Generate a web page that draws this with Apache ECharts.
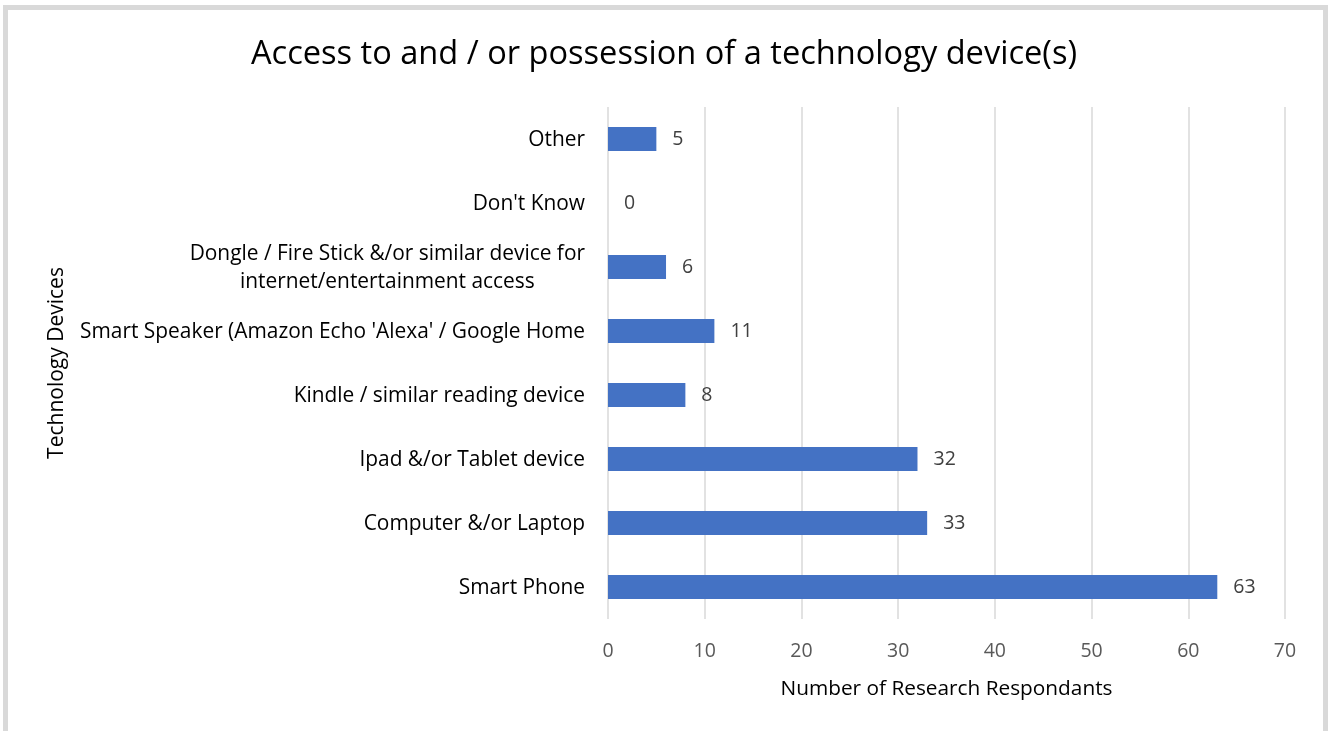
<!DOCTYPE html>
<html>
<head>
<meta charset="utf-8">
<script src="https://cdn.jsdelivr.net/npm/echarts@6/dist/echarts.min.js"></script>
<style>
  html, body { margin: 0; padding: 0; background: #fff; }
  #chart { width: 1328px; height: 731px; }
</style>
</head>
<body>
<div id="chart"></div>
<script>
// Device categories, listed bottom-to-top as they appear on the axis
const categories = [
  'Smart Phone',
  'Computer &/or Laptop',
  'Ipad &/or Tablet device',
  'Kindle / similar reading device',
  "Smart Speaker (Amazon Echo 'Alexa' / Google Home",
  'Dongle / Fire Stick &/or similar device for\ninternet/entertainment access',
  "Don't Know",
  'Other'
];
// Number of respondents per device
const respondents = [63, 33, 32, 8, 11, 6, 0, 5];
// Value axis ticks
const xTicks = [0, 10, 20, 30, 40, 50, 60, 70];

const FONT = 'Open Sans';
const chart = echarts.init(document.getElementById('chart'), null, { renderer: 'canvas' });

chart.setOption({
  backgroundColor: '#ffffff',
  animation: false,
  textStyle: { fontFamily: FONT },
  title: {
    text: 'Access to and / or possession of a technology device(s)',
    left: 'center',
    top: 33,
    textStyle: { fontFamily: FONT, fontSize: 32.6, fontWeight: 'normal', color: '#000000' }
  },
  graphic: [{
    type: 'rect',
    shape: { x: 5.5, y: 7.5, width: 1320, height: 760 },
    style: { fill: null, stroke: '#d9d9d9', lineWidth: 5 },
    silent: true
  }],
  grid: { left: 608, right: 43, top: 107, bottom: 112, containLabel: false },
  xAxis: {
    type: 'value',
    min: xTicks[0],
    max: xTicks[xTicks.length - 1],
    interval: xTicks[1] - xTicks[0],
    name: 'Number of Research Respondants',
    nameLocation: 'middle',
    nameGap: 60,
    nameTextStyle: { fontFamily: FONT, fontSize: 20.8, color: '#000000' },
    axisLine: { show: false },
    axisTick: { show: false },
    axisLabel: { fontFamily: FONT, fontSize: 19.5, color: '#595959', margin: 22 },
    splitLine: { show: true, lineStyle: { color: '#d9d9d9', width: 1.5 } }
  },
  yAxis: {
    type: 'category',
    data: categories,
    name: 'Technology Devices',
    nameLocation: 'middle',
    nameGap: 540,
    nameRotate: 90,
    nameTextStyle: { fontFamily: FONT, fontSize: 21, color: '#000000' },
    axisLine: { show: false },
    axisTick: { show: false },
    axisLabel: {
      margin: 23,
      lineHeight: 28,
      padding: [3, 0, 0, 0],
      formatter: v => v.split('\n').map(s => '{c|' + s + '}').join('\n'),
      rich: { c: { fontFamily: FONT, fontSize: 20.9, color: '#000000', align: 'center', lineHeight: 28 } }
    }
  },
  series: [{
    type: 'bar',
    data: respondents,
    barWidth: 24,
    itemStyle: { color: '#4472c4' },
    label: {
      show: true,
      position: 'right',
      distance: 16,
      fontFamily: FONT,
      fontSize: 19.5,
      color: '#404040'
    }
  }]
});
</script>
</body>
</html>
